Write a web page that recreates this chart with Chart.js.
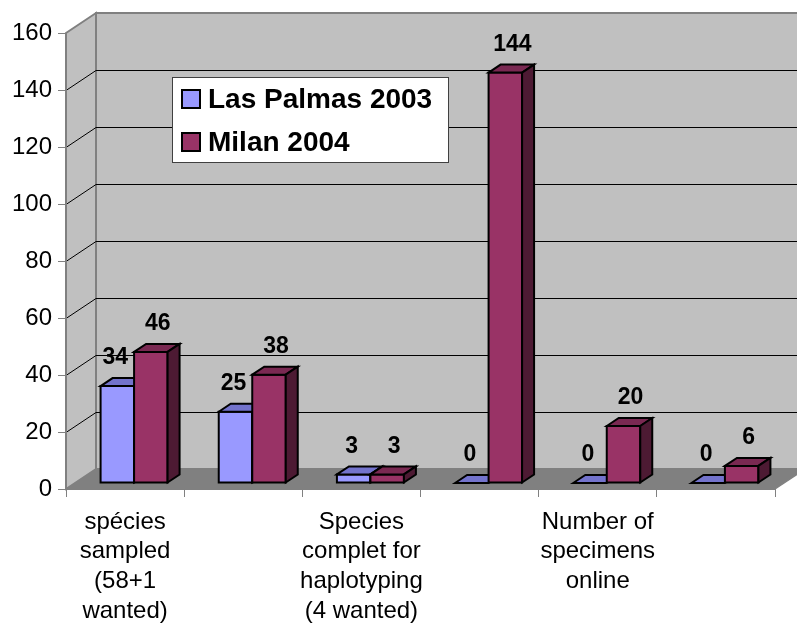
<!DOCTYPE html>
<html>
<head>
<meta charset="utf-8">
<script src="https://cdn.jsdelivr.net/npm/chart.js@4/dist/chart.umd.min.js"></script>
<style>
  body { margin: 0; background: #fff; }
</style>
</head>
<body>
<canvas id="chart" width="797" height="626"></canvas>
<script>
// Chart data ----------------------------------------------------------------------------
const categories = [
    ['spécies', 'sampled', '(58+1', 'wanted)'],
    '',
    ['Species', 'complet for', 'haplotyping', '(4 wanted)'],
    '',
    ['Number of', 'specimens', 'online'],
    ''
];
const seriesNames = ['Las Palmas 2003', 'Milan 2004'];
const lasPalmas2003 = [34, 25, 3, 0, 0, 0];
const milan2004 = [46, 38, 3, 144, 20, 6];
const yMin = 0;
const yMax = 160;
const yStep = 20;

// Colours for the fake 3D faces (front, top, side)
const faceColors = [
    { front: '#9999FF', top: '#7373CC', side: '#4D4D80' },
    { front: '#993366', top: '#7A2952', side: '#4D1A33' }
];

// Depth of the 3D box and where the bars sit inside it
const DEPTH_X = 30;
const DEPTH_Y = -20;
const BAR_OFFSET = 0.3; // bars start 30% into the depth
const BAR_DEPTH = 0.4;  // bars are 40% of the depth deep

function poly(ctx, pts, fill, stroke, lw) {
    ctx.beginPath();
    ctx.moveTo(pts[0][0], pts[0][1]);
    for (let i = 1; i < pts.length; i++) ctx.lineTo(pts[i][0], pts[i][1]);
    ctx.closePath();
    if (fill) { ctx.fillStyle = fill; ctx.fill(); }
    if (stroke) { ctx.strokeStyle = stroke; ctx.lineWidth = lw || 1; ctx.stroke(); }
}

// Walls, floor and gridlines go under the axes
const box3d = {
    id: 'box3d',
    beforeDraw(chart) {
        const { ctx, chartArea: a, scales: { y } } = chart;
        ctx.save();
        ctx.fillStyle = '#fff';
        ctx.fillRect(0, 0, chart.width, chart.height);

        // back wall
        poly(ctx, [
            [a.left + DEPTH_X, a.top + DEPTH_Y],
            [a.right + DEPTH_X, a.top + DEPTH_Y],
            [a.right + DEPTH_X, a.bottom + DEPTH_Y],
            [a.left + DEPTH_X, a.bottom + DEPTH_Y]
        ], '#C0C0C0', '#808080', 2);

        // side wall
        poly(ctx, [
            [a.left, a.top],
            [a.left + DEPTH_X, a.top + DEPTH_Y],
            [a.left + DEPTH_X, a.bottom + DEPTH_Y],
            [a.left, a.bottom]
        ], '#C0C0C0', '#808080', 2);

        // gridlines on side wall and back wall
        ctx.strokeStyle = '#000';
        ctx.lineWidth = 1;
        y.ticks.forEach(t => {
            if (t.value <= yMin || t.value >= yMax) return;
            const py = Math.round(y.getPixelForValue(t.value)) + 0.5;
            ctx.beginPath();
            ctx.moveTo(a.left, py);
            ctx.lineTo(a.left + DEPTH_X, py + DEPTH_Y);
            ctx.lineTo(a.right + DEPTH_X, py + DEPTH_Y);
            ctx.stroke();
        });

        // floor
        poly(ctx, [
            [a.left, a.bottom],
            [a.right, a.bottom],
            [a.right + DEPTH_X, a.bottom + DEPTH_Y],
            [a.left + DEPTH_X, a.bottom + DEPTH_Y]
        ], '#808080', null);
        ctx.strokeStyle = '#808080';
        ctx.lineWidth = 1.5;
        ctx.beginPath();
        ctx.moveTo(a.right, a.bottom);
        ctx.lineTo(a.right + DEPTH_X, a.bottom + DEPTH_Y);
        ctx.stroke();
        ctx.restore();
    },

    // draw the bars ourselves as boxes, category by category
    beforeDatasetsDraw(chart) {
        const { ctx } = chart;
        const ox = DEPTH_X * BAR_OFFSET, oy = DEPTH_Y * BAR_OFFSET;
        const bx = DEPTH_X * BAR_DEPTH, by = DEPTH_Y * BAR_DEPTH;
        ctx.save();
        ctx.lineJoin = 'miter';
        for (let i = 0; i < categories.length; i++) {
            chart.data.datasets.forEach((ds, d) => {
                const el = chart.getDatasetMeta(d).data[i];
                const p = el.getProps(['x', 'y', 'base', 'width'], true);
                const l = p.x - p.width / 2 + ox;
                const r = p.x + p.width / 2 + ox;
                const t = p.y + oy;
                const b = p.base + oy;
                const c = faceColors[d];
                poly(ctx, [[l, t], [r, t], [r, b], [l, b]], c.front, '#000', 2);
                poly(ctx, [[l, t], [l + bx, t + by], [r + bx, t + by], [r, t]], c.top, '#000', 2);
                if (b - t > 0) {
                    poly(ctx, [[r, t], [r + bx, t + by], [r + bx, b + by], [r, b]], c.side, '#000', 2);
                }
            });
        }
        ctx.restore();
        return false;
    },

    // value labels and the legend box
    afterDraw(chart) {
        const { ctx, chartArea: a } = chart;
        const ox = DEPTH_X * BAR_OFFSET, oy = DEPTH_Y * BAR_OFFSET;
        ctx.save();
        ctx.font = 'bold 23px "Liberation Sans", Arial, sans-serif';
        ctx.fillStyle = '#000';
        ctx.textAlign = 'center';
        ctx.textBaseline = 'middle';
        chart.data.datasets.forEach((ds, d) => {
            chart.getDatasetMeta(d).data.forEach((el, i) => {
                const shift = d === 0 ? -2 : 7;
                ctx.fillText(String(ds.data[i]), el.x + ox + shift, el.y + oy - 28);
            });
        });

        // legend
        const lx = a.left + 106, ly = a.top + 44;
        ctx.fillStyle = '#fff';
        ctx.fillRect(lx, ly, 276, 85);
        ctx.strokeStyle = '#404040';
        ctx.lineWidth = 1;
        ctx.strokeRect(lx + 0.5, ly + 0.5, 276, 85);
        ctx.font = 'bold 28px "Liberation Sans", Arial, sans-serif';
        ctx.textAlign = 'left';
        chart.data.datasets.forEach((ds, d) => {
            const cy = ly + 22 + d * 43;
            ctx.fillStyle = faceColors[d].front;
            ctx.fillRect(lx + 10, cy - 9, 18, 18);
            ctx.strokeStyle = '#000';
            ctx.lineWidth = 2;
            ctx.strokeRect(lx + 10, cy - 9, 18, 18);
            ctx.fillStyle = '#000';
            ctx.fillText(ds.label, lx + 36, cy + 1);
        });
        ctx.restore();
    }
};

const ctx = document.getElementById('chart').getContext('2d');

new Chart(ctx, {
    type: 'bar',
    data: {
        labels: categories,
        datasets: [
            { label: seriesNames[0], data: lasPalmas2003, backgroundColor: faceColors[0].front },
            { label: seriesNames[1], data: milan2004, backgroundColor: faceColors[1].front }
        ]
    },
    options: {
        responsive: false,
        devicePixelRatio: 1,
        animation: false,
        layout: { padding: { top: 33, right: 22, left: 0, bottom: 0 } },
        datasets: {
            bar: { categoryPercentage: 0.567, barPercentage: 1 }
        },
        plugins: {
            legend: { display: false },
            tooltip: { enabled: false }
        },
        scales: {
            x: {
                grid: { offset: true, drawOnChartArea: false, tickLength: 8, color: '#808080' },
                border: { color: '#808080' },
                ticks: {
                    autoSkip: false,
                    maxRotation: 0,
                    padding: 10,
                    color: '#000',
                    font: { family: '"Liberation Sans", Arial, sans-serif', size: 24, lineHeight: 1.24 }
                },
                afterFit: s => { s.height = 137; }
            },
            y: {
                min: yMin,
                max: yMax,
                grid: { drawOnChartArea: false, tickLength: 8, color: '#808080' },
                border: { color: '#808080' },
                ticks: {
                    stepSize: yStep,
                    padding: 6,
                    color: '#000',
                    font: { family: '"Liberation Sans", Arial, sans-serif', size: 24 }
                },
                afterFit: s => { s.width = 66; }
            }
        }
    },
    plugins: [box3d]
});
</script>
</body>
</html>
